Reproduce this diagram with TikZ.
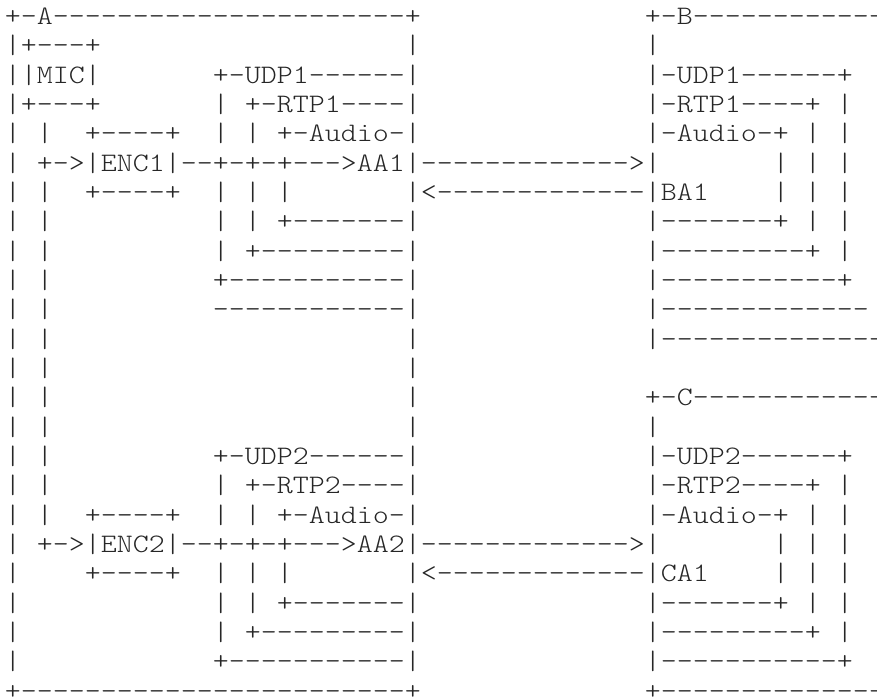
\documentclass[tikz,border=0pt]{standalone}
\usepackage{fontspec}
\setmonofont{Latin Modern Mono Light}[FakeStretch=1.1429]
\newlength\cw
\setlength\cw{16pt}
\newcommand\gap[1]{\hspace*{#1\cw}}
\newcommand\dsh[1]{\ifnum#1>0 -\expandafter\dsh\expandafter{\the\numexpr#1-1\relax}\fi}
\newcommand\asciifont{\ttfamily\fontsize{26.66pt}{29.33pt}\selectfont}
\tikzset{asciirow/.style={anchor=base west,inner sep=0pt,outer sep=0pt,font=\asciifont,text=black!85}}
\newcommand\R[2]{\node[asciirow] (r#1) at (5pt,{-24.6pt-29.333pt*#1}) {#2};}
\begin{document}
\begin{tikzpicture}
\clip (0,0) rectangle (877pt,-697pt);
\useasboundingbox (0,0) rectangle (877pt,-697pt);
\R{0}{+-A\dsh{22}+\gap{14}+-B\dsh{12}}
\R{1}{|+---+\gap{19}|\gap{14}|}
\R{2}{||MIC|\gap{7}+-UDP1\dsh{6}|\gap{14}|-UDP1\dsh{6}+}
\R{3}{|+---+\gap{7}|\gap{1}+-RTP1\dsh{4}|\gap{14}|-RTP1\dsh{4}+\gap{1}|}
\R{4}{|\gap{1}|\gap{2}+\dsh{4}+\gap{2}|\gap{1}|\gap{1}+-Audio-|\gap{14}|-Audio-+\gap{1}|\gap{1}|}
\R{5}{|\gap{1}+->|ENC1|\dsh{2}+-+-+\dsh{3}>AA1|\dsh{13}>|\gap{7}|\gap{1}|\gap{1}|}
\R{6}{|\gap{1}|\gap{2}+\dsh{4}+\gap{2}|\gap{1}|\gap{1}|\gap{7}|<\dsh{13}|BA1\gap{4}|\gap{1}|\gap{1}|}
\R{7}{|\gap{1}|\gap{10}|\gap{1}|\gap{1}+\dsh{7}|\gap{14}|\dsh{7}+\gap{1}|\gap{1}|}
\R{8}{|\gap{1}|\gap{10}|\gap{1}+\dsh{9}|\gap{14}|\dsh{9}+\gap{1}|}
\R{9}{|\gap{1}|\gap{10}+\dsh{11}|\gap{14}|\dsh{11}+}
\R{10}{|\gap{1}|\gap{10}\dsh{12}|\gap{14}|\dsh{13}}
\R{11}{|\gap{1}|\gap{22}|\gap{14}|\dsh{14}}
\R{12}{|\gap{1}|\gap{22}|}
\R{13}{|\gap{1}|\gap{22}|\gap{14}+-C\dsh{12}}
\R{14}{|\gap{1}|\gap{22}|\gap{14}|}
\R{15}{|\gap{1}|\gap{10}+-UDP2\dsh{6}|\gap{14}|-UDP2\dsh{6}+}
\R{16}{|\gap{1}|\gap{10}|\gap{1}+-RTP2\dsh{4}|\gap{14}|-RTP2\dsh{4}+\gap{1}|}
\R{17}{|\gap{1}|\gap{2}+\dsh{4}+\gap{2}|\gap{1}|\gap{1}+-Audio-|\gap{14}|-Audio-+\gap{1}|\gap{1}|}
\R{18}{|\gap{1}+->|ENC2|\dsh{2}+-+-+\dsh{3}>AA2|\dsh{13}>|\gap{7}|\gap{1}|\gap{1}|}
\R{19}{|\gap{4}+\dsh{4}+\gap{2}|\gap{1}|\gap{1}|\gap{7}|<\dsh{13}|CA1\gap{4}|\gap{1}|\gap{1}|}
\R{20}{|\gap{12}|\gap{1}|\gap{1}+\dsh{7}|\gap{14}|\dsh{7}+\gap{1}|\gap{1}|}
\R{21}{|\gap{12}|\gap{1}+\dsh{9}|\gap{14}|\dsh{9}+\gap{1}|}
\R{22}{|\gap{12}+\dsh{11}|\gap{14}|\dsh{11}+}
\R{23}{+\dsh{24}+\gap{14}+\dsh{14}}
\end{tikzpicture}
\end{document}
